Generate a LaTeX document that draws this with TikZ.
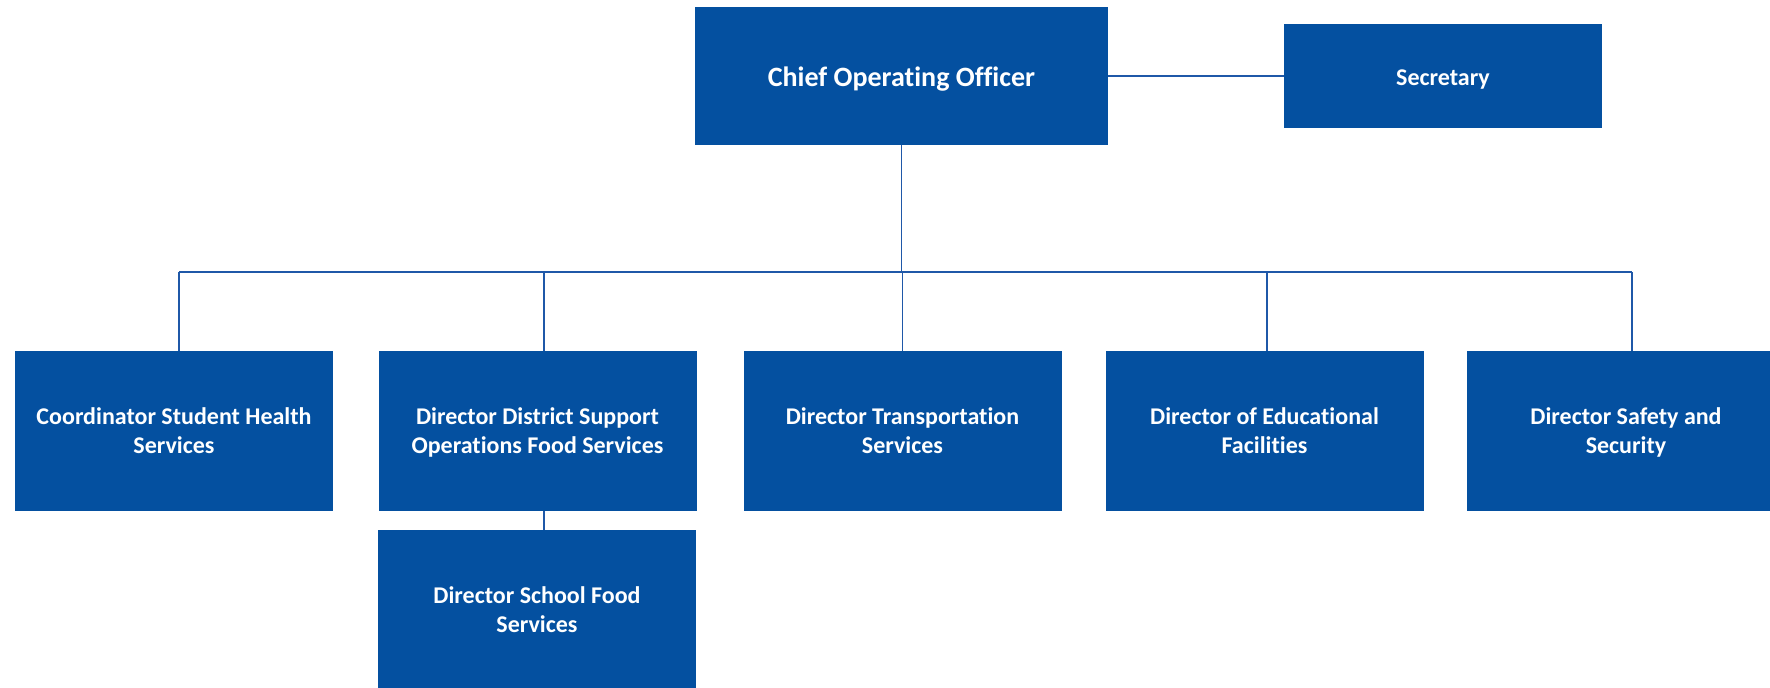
\documentclass[tikz,border=0pt]{standalone}
\usepackage{fontspec}
\setmainfont{Carlito}[Ligatures=NoCommon]
\definecolor{boxblue}{HTML}{0450A0}
\definecolor{lineblue}{HTML}{1F58A8}
\newcommand{\ls}{\strut}
\begin{document}
\begin{tikzpicture}[x=1pt,y=-1pt,
  box/.style={rectangle, fill=boxblue, draw=none, inner sep=0pt, text=white,
    align=center, font=\bfseries\fontsize{24}{28.8}\selectfont,
    minimum width=318pt, minimum height=160pt},
  twoline/.style={text height=48.96pt, text depth=3.64pt},
  link/.style={draw=lineblue, line width=1.8pt}]
\useasboundingbox (0,0) rectangle (1770,688);
\clip (0,0) rectangle (1770,688);
\fill[white] (0,0) rectangle (1770,688);
\node[box, minimum width=413pt, minimum height=138pt, font=\bfseries\fontsize{28}{33}\selectfont, text height=23.1pt, text depth=1.9pt] (coo) at (901.5,76) {\ls Chief Operating Officer};
\node[box, minimum height=104pt, text height=20.16pt, text depth=0.64pt] (sec) at (1443,76) {\ls Secretary};
\node[box, twoline] (b1) at (174,431) {\ls Coordinator Student Health\\\ls Services};
\node[box, twoline] (b2) at (537.5,431) {\ls Director District Support\\\ls Operations Food Services};
\node[box, twoline] (b3) at (902.5,431) {\ls Director Transportation\\\ls Services};
\node[box, twoline] (b4) at (1264.5,431) {\ls Director of Educational\\\ls Facilities};
\node[box, twoline] (b5) at (1626,431) {\ls Director Safety and\\\ls Security};
\node[box, twoline] (b6) at (537,610) {\ls Director School Food\\\ls Services};
\coordinate (busL) at (179,272);
\coordinate (busR) at (1632,272);
\draw[link] (coo.east) -- (sec.west);
\draw[link] (busL) -- (busR);
\draw[link] (coo.south) -- (coo.south |- busL);
\draw[link] (busL) -- (busL |- b1.north);
\draw[link] ([xshift=6.5pt]b2.north |- busL) -- ([xshift=6.5pt]b2.north);
\draw[link] (b3.north |- busL) -- (b3.north);
\draw[link] ([xshift=2.5pt]b4.north |- busL) -- ([xshift=2.5pt]b4.north);
\draw[link] (busR) -- (busR |- b5.north);
\draw[link] ([xshift=6.5pt]b2.south) -- ([xshift=6.5pt]b2.south |- b6.north);
\end{tikzpicture}
\end{document}
